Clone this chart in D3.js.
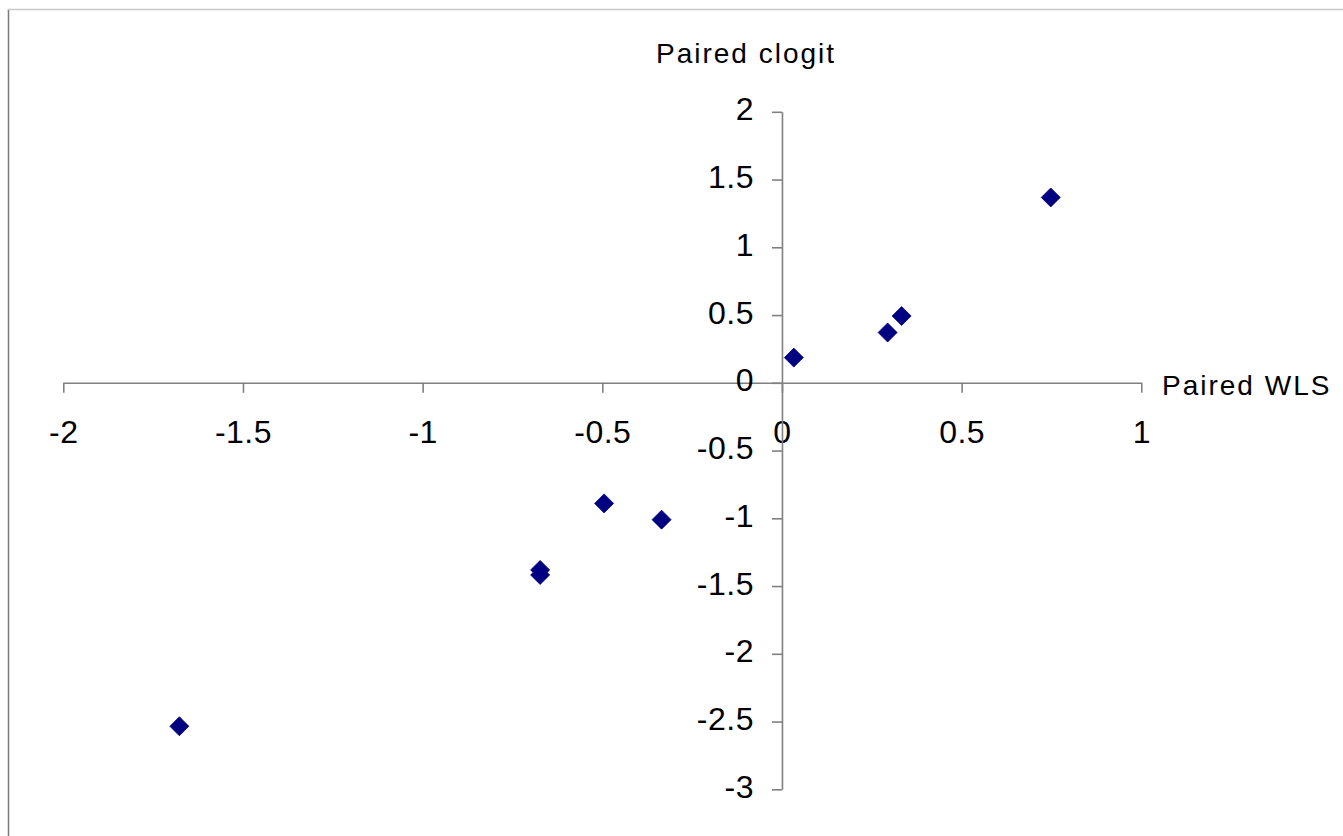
<!DOCTYPE html>
<html>
<head>
<meta charset="utf-8">
<script src="https://cdn.jsdelivr.net/npm/d3@7"></script>
<style>
  html, body { margin: 0; padding: 0; background: #fff; }
  svg { display: block; }
  text { font-family: "Liberation Sans", Arial, sans-serif; fill: #000; }
</style>
</head>
<body>
<svg id="chart" width="1343" height="836"></svg>
<script>
// Data
const pairedWLS    = [0.748, 0.333, 0.294, 0.033, -0.495, -0.335, -0.673, -0.673, -1.677];
const pairedClogit = [1.368, 0.493, 0.371, 0.186, -0.890, -1.010, -1.381, -1.418, -2.535];
const xTicks = [-2, -1.5, -1, -0.5, 0, 0.5, 1];
const yTicks = [2, 1.5, 1, 0.5, 0, -0.5, -1, -1.5, -2, -2.5, -3];
const xTitle = "Paired WLS";
const yTitle = "Paired clogit";

const svg = d3.select("#chart");
const W = 1343, H = 836;

// outer chart border (partially visible)
svg.append("line").attr("x1", 8.5).attr("x2", 8.5).attr("y1", 9).attr("y2", H)
  .attr("stroke", "#7a7a7a").attr("stroke-width", 1.5);
svg.append("line").attr("x1", 8).attr("x2", W).attr("y1", 9.5).attr("y2", 9.5)
  .attr("stroke", "#c8c8c8").attr("stroke-width", 1.5);

const x = d3.scaleLinear().domain([-2, 1]).range([63.3, 1141.3]);
const y = d3.scaleLinear().domain([-3, 2]).range([789.3, 111.8]);

const fmt = d => String(d);

// X axis through y=0
const gx = svg.append("g")
  .attr("transform", `translate(0,${y(0)})`)
  .call(d3.axisBottom(x).tickValues(xTicks).tickFormat(fmt).tickSize(10).tickSizeOuter(0).tickPadding(27));

// Y axis through x=0
const gy = svg.append("g")
  .attr("transform", `translate(${x(0)},0)`)
  .call(d3.axisLeft(y).tickValues(yTicks).tickFormat(fmt).tickSize(10).tickSizeOuter(0).tickPadding(18));

[gx, gy].forEach(g => {
  g.select(".domain").attr("stroke", "#808080").attr("stroke-width", 1.6);
  g.selectAll(".tick line").attr("stroke", "#808080").attr("stroke-width", 1.6);
  g.selectAll(".tick text")
    .attr("font-family", '"Liberation Sans", Arial, sans-serif')
    .attr("font-size", 32).attr("fill", "#000")
    .style("letter-spacing", "0.5px");
});
gy.selectAll(".tick text").attr("dy", "0.25em");

// Axis titles
svg.append("text").attr("x", 1162).attr("y", 395)
  .attr("font-size", 28).style("letter-spacing", "2px").text(xTitle);
svg.append("text").attr("x", 656).attr("y", 63)
  .attr("font-size", 28).style("letter-spacing", "2px").text(yTitle);

// Diamond markers
const r = 9.5;
const pts = pairedWLS.map((v, i) => [v, pairedClogit[i]]);
svg.append("g").selectAll("path").data(pts).join("path")
  .attr("d", d => {
    const cx = x(d[0]), cy = y(d[1]);
    return `M${cx},${cy - r}L${cx + r},${cy}L${cx},${cy + r}L${cx - r},${cy}Z`;
  })
  .attr("fill", "#000080")
  .attr("stroke", "#000080")
  .attr("stroke-width", 0.8)
  .attr("stroke-linejoin", "round");
</script>
</body>
</html>
